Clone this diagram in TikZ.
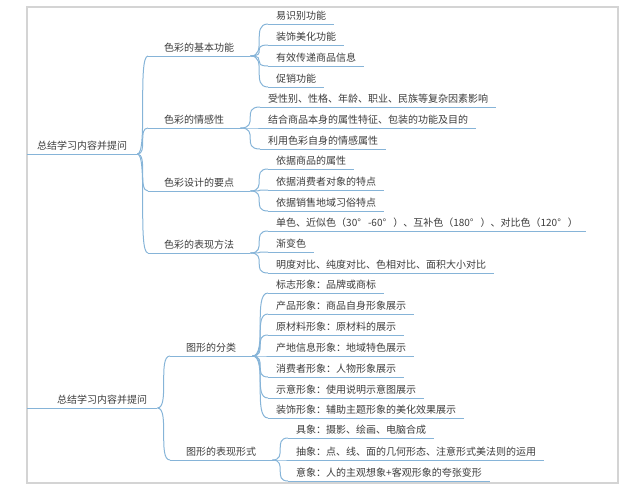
\documentclass[tikz,border=0pt]{standalone}
\usepackage{fontspec}
\setmainfont{Noto Sans CJK SC}
\usepackage{tikz}
\definecolor{lineblue}{HTML}{86B4D8}
\definecolor{framegray}{HTML}{D4D4D4}
\definecolor{textgray}{HTML}{3C3C3C}

\begin{document}
\begin{tikzpicture}[x = 1pt, y = -1pt]
% Node styles ---
\tikzstyle{root} = [anchor = south west, inner xsep = 10pt, inner ysep = 4pt, text height = 8pt, text depth = 0pt, text = textgray, font = \fontsize{10}{12}\selectfont] % Central topic
\tikzstyle{sub} = [root, inner xsep = 16pt] % Main branches
\tikzstyle{leaf} = [root, inner xsep = 8pt] % Details
% Edge styles
\tikzstyle{line} = [draw = lineblue, line width = 1pt]
\tikzstyle{branch} = [line, to path = {.. controls (\tikztotarget |- \tikztostart) and (\tikztostart |- \tikztotarget) .. (\tikztotarget) \tikztonodes}] % Curved links
% Frame ---
\useasboundingbox (0,0) rectangle (640,490);
\draw [framegray, line width = 1.5pt] (27,7) rectangle (618,483);
% Nodes (colour)
\node at (27,154) [root] (sum1) {总结学习内容并提问};
\node at (148,56) [sub] (col1) {色彩的基本功能};
\node at (148,128) [sub] (col2) {色彩的情感性};
\node at (148,191) [sub] (col3) {色彩设计的要点};
\node at (148,253) [sub] (col4) {色彩的表现方法};
\node at (268,24) [leaf] (col1a) {易识别功能};
\node at (268,45) [leaf] (col1b) {装饰美化功能};
\node at (268,66) [leaf] (col1c) {有效传递商品信息};
\node at (268,87) [leaf] (col1d) {促销功能};
\node at (260,107) [leaf] (col2a) {受性别、性格、年龄、职业、民族等复杂因素影响};
\node at (260,128) [leaf] (col2b) {结合商品本身的属性特征、包装的功能及目的};
\node at (260,149) [leaf] (col2c) {利用色彩自身的情感属性};
\node at (268,169) [leaf] (col3a) {依据商品的属性};
\node at (268,190) [leaf] (col3b) {依据消费者对象的特点};
\node at (268,211) [leaf] (col3c) {依据销售地域习俗特点};
\node at (268,231) [leaf] (col4a) {单色、近似色（30°\hspace{0.7em}-60°\hspace{0.7em}）、互补色（180°\hspace{0.7em}）、对比色（120°\hspace{0.7em}）};
\node at (268,252) [leaf] (col4b) {渐变色};
\node at (268,273) [leaf] (col4c) {明度对比、纯度对比、色相对比、面积大小对比};
% Nodes (figure)
\node at (27,408) [root, text width = 110pt, align = right] (sum2) {总结学习内容并提问};
\node at (170,356) [sub] (fig1) {图形的分类};
\node at (170,460) [sub] (fig2) {图形的表现形式};
\node at (268,293) [leaf] (fig1a) {标志形象：品牌或商标};
\node at (268,314) [leaf] (fig1b) {产品形象：商品自身形象展示};
\node at (268,335) [leaf] (fig1c) {原材料形象：原材料的展示};
\node at (268,356) [leaf] (fig1d) {产地信息形象：地域特色展示};
\node at (268,377) [leaf] (fig1e) {消费者形象：人物形象展示};
\node at (268,398) [leaf] (fig1f) {示意形象：使用说明示意图展示};
\node at (268,418) [leaf] (fig1g) {装饰形象：辅助主题形象的美化效果展示};
\node at (288,438) [leaf] (fig2a) {具象：摄影、绘画、电脑合成};
\node at (288,460) [leaf] (fig2b) {抽象：点、线、面的几何形态、注意形式美法则的运用};
\node at (288,481) [leaf] (fig2c) {意象：人的主观想象+客观形象的夸张变形};
% Underlines
\foreach \n in {sum1,col1,col2,col3,col4,col1a,col1b,col1c,col1d,col2a,col2b,col2c,col3a,col3b,col3c,col4a,col4b,col4c,sum2,fig1,fig2,fig1a,fig1b,fig1c,fig1d,fig1e,fig1f,fig1g,fig2a,fig2b,fig2c}
  \draw [line] (\n.south west) -- (\n.south east);
% Paths
\path (sum1.south east) edge [branch] (col1.south west);
\path (sum1.south east) edge [branch] (col2.south west);
\path (sum1.south east) edge [branch] (col3.south west);
\path (sum1.south east) edge [branch] (col4.south west);
\path (col1.south east) edge [branch] (col1a.south west);
\path (col1.south east) edge [branch] (col1b.south west);
\path (col1.south east) edge [branch] (col1c.south west);
\path (col1.south east) edge [branch] (col1d.south west);
\path (col2.south east) edge [branch] (col2a.south west);
\path (col2.south east) edge [branch] (col2b.south west);
\path (col2.south east) edge [branch] (col2c.south west);
\path (col3.south east) edge [branch] (col3a.south west);
\path (col3.south east) edge [branch] (col3b.south west);
\path (col3.south east) edge [branch] (col3c.south west);
\path (col4.south east) edge [branch] (col4a.south west);
\path (col4.south east) edge [branch] (col4b.south west);
\path (col4.south east) edge [branch] (col4c.south west);
\path (sum2.south east) edge [branch] (fig1.south west);
\path (sum2.south east) edge [branch] (fig2.south west);
\path (fig1.south east) edge [branch] (fig1a.south west);
\path (fig1.south east) edge [branch] (fig1b.south west);
\path (fig1.south east) edge [branch] (fig1c.south west);
\path (fig1.south east) edge [branch] (fig1d.south west);
\path (fig1.south east) edge [branch] (fig1e.south west);
\path (fig1.south east) edge [branch] (fig1f.south west);
\path (fig1.south east) edge [branch] (fig1g.south west);
\path (fig2.south east) edge [branch] (fig2a.south west);
\path (fig2.south east) edge [branch] (fig2b.south west);
\path (fig2.south east) edge [branch] (fig2c.south west);
\end{tikzpicture}
\end{document}
